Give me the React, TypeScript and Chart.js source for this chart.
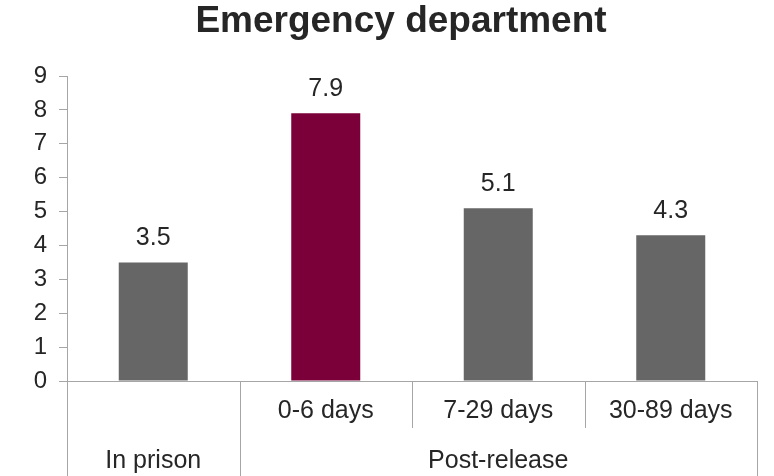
import React, { useEffect, useRef } from "react";
import { Chart, registerables } from "chart.js";

Chart.register(...registerables);

const titleText = "Emergency department";
const categories = ["In prison", "0-6 days", "7-29 days", "30-89 days"];
const rowLabels = ["", "0-6 days", "7-29 days", "30-89 days"];
const groupLabels = ["In prison", "Post-release"];
const groupSpans = [1, 3];
const values = [3.5, 7.9, 5.1, 4.3];
const barColors = ["#666666", "#7B0039", "#666666", "#666666"];
const yTicks = [0, 1, 2, 3, 4, 5, 6, 7, 8, 9];

const FONT = "Arial, 'Liberation Sans', Helvetica, sans-serif";
const TEXT = "#262626";
const LINE = "#a6a6a6";
const LABEL_SIZE = 25;

const tablePlugin = {
  id: "tablePlugin",
  afterDraw(chart: any) {
    const ctx = chart.ctx;
    const x = chart.scales.x;
    const ca = chart.chartArea;
    const bottom = chart.height;
    const n = categories.length;
    const bounds: number[] = [];
    bounds.push(x.left);
    for (let i = 1; i < n; i++) {
      bounds.push((x.getPixelForValue(i - 1) + x.getPixelForValue(i)) / 2);
    }
    bounds.push(x.right);
    const rowSplit = ca.bottom + 47;

    ctx.save();
    // title
    ctx.fillStyle = TEXT;
    ctx.font = `bold 37px ${FONT}`;
    ctx.textAlign = "center";
    ctx.textBaseline = "middle";
    ctx.fillText(titleText, 401, 22);

    ctx.strokeStyle = LINE;
    ctx.lineWidth = 1;
    const groupBounds: number[] = [0];
    let acc = 0;
    for (const s of groupSpans) {
      acc += s;
      groupBounds.push(acc);
    }
    for (let i = 0; i <= n; i++) {
      const isGroup = groupBounds.includes(i);
      const px = Math.round(bounds[i]) + 0.5;
      ctx.beginPath();
      ctx.moveTo(px, ca.bottom);
      ctx.lineTo(px, isGroup ? bottom : rowSplit);
      ctx.stroke();
    }

    ctx.font = `${LABEL_SIZE}px ${FONT}`;
    for (let i = 0; i < n; i++) {
      if (!rowLabels[i]) continue;
      ctx.fillText(rowLabels[i], (bounds[i] + bounds[i + 1]) / 2, ca.bottom + 30);
    }
    for (let g = 0; g < groupLabels.length; g++) {
      const a = bounds[groupBounds[g]];
      const b = bounds[groupBounds[g + 1]];
      ctx.fillText(groupLabels[g], (a + b) / 2, ca.bottom + 80);
    }

    const meta = chart.getDatasetMeta(0);
    meta.data.forEach((el: any, i: number) => {
      ctx.fillText(values[i].toFixed(1), el.x, el.y - 24);
    });
    ctx.restore();
  },
};

export default function App() {
  const ref = useRef<HTMLCanvasElement | null>(null);
  useEffect(() => {
    if (!ref.current) return;
    const chart = new Chart(ref.current, {
      type: "bar",
      data: {
        labels: categories,
        datasets: [
          {
            data: values,
            backgroundColor: barColors,
            barPercentage: 0.4,
            categoryPercentage: 1,
          },
        ],
      },
      options: {
        responsive: false,
        animation: false,
        devicePixelRatio: 1,
        layout: { padding: { left: 0, right: 17, top: 76, bottom: 0 } },
        plugins: {
          legend: { display: false },
          tooltip: { enabled: false },
          title: { display: false },
        },
        scales: {
          x: {
            ticks: { display: false },
            grid: { display: false },
            border: { display: true, color: LINE, width: 1 },
            afterFit(scale: any) {
              scale.height = 95;
            },
          },
          y: {
            min: 0,
            max: 9,
            afterBuildTicks(scale: any) {
              scale.ticks = yTicks.map((v) => ({ value: v }));
            },
            ticks: {
              color: TEXT,
              font: { family: FONT, size: 24 },
              padding: 12,
            },
            grid: {
              drawOnChartArea: false,
              drawTicks: true,
              tickLength: 8,
              color: LINE,
            },
            border: { display: true, color: LINE, width: 1 },
            afterFit(scale: any) {
              scale.width = 67;
            },
          },
        },
      },
      plugins: [tablePlugin],
    });
    return () => chart.destroy();
  }, []);
  return (
    <div style={{ position: "fixed", left: 0, top: 0, width: 774, height: 476, background: "#fff" }}>
      <canvas ref={ref} width={774} height={476} style={{ width: 774, height: 476 }} />
    </div>
  );
}
